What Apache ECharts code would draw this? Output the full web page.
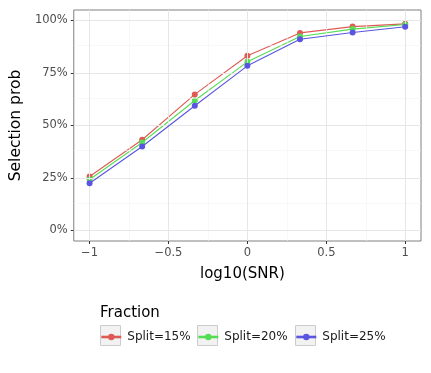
<!DOCTYPE html>
<html>
<head>
<meta charset="utf-8">
<script src="https://cdn.jsdelivr.net/npm/echarts@6/dist/echarts.min.js"></script>
<style>
html,body{margin:0;padding:0;background:#fff;}
#main{width:431px;height:373px;}
</style>
</head>
<body>
<div id="main"></div>
<script>
// data
var snr = [-1, -2/3, -1/3, 0, 1/3, 2/3, 1];
var split15 = [0.257, 0.432, 0.648, 0.832, 0.941, 0.971, 0.984];
var split20 = [0.243, 0.419, 0.619, 0.803, 0.924, 0.959, 0.981];
var split25 = [0.225, 0.400, 0.594, 0.784, 0.911, 0.943, 0.970];
var names = ['Split=15%', 'Split=20%', 'Split=25%'];
var colors = ['#E05A55', '#55DD55', '#5A55E0'];

var xTicks = [-1, -0.5, 0, 0.5, 1];
var xMinor = [-0.75, -0.25, 0.25, 0.75];
var yTicks = [0, 0.25, 0.5, 0.75, 1];
var yMinor = [0.125, 0.375, 0.625, 0.875];

function pairs(ys){
	var out = [];
	for(var i=0;i<snr.length;i++){
		out.push([snr[i], ys[i]]);
	}
	return out;
}
function fmtX(v){
	var s = String(v);
	return s.replace('-', '\u2212');
}

var font = '"DejaVu Sans", sans-serif';

var myChart = echarts.init(document.getElementById('main'), null, {renderer:'canvas'});

// grid lines drawn through a silent helper series
var gridLines = [];
xMinor.forEach(function(v){ gridLines.push({xAxis:v, lineStyle:{color:'#f4f4f4', width:0.6, type:'solid'}}); });
yMinor.forEach(function(v){ gridLines.push({yAxis:v, lineStyle:{color:'#f4f4f4', width:0.6, type:'solid'}}); });
xTicks.forEach(function(v){ gridLines.push({xAxis:v, lineStyle:{color:'#e6e6e6', width:1, type:'solid'}}); });
yTicks.forEach(function(v){ gridLines.push({yAxis:v, lineStyle:{color:'#e6e6e6', width:1, type:'solid'}}); });

var series = [{
	name:'grid',
	type:'line',
	data:[],
	silent:true,
	z:1,
	markLine:{
		silent:true,
		symbol:['none','none'],
		label:{show:false},
		animation:false,
		data:gridLines
	}
}];
var all = [split15, split20, split25];
for(var i=0;i<all.length;i++){
	series.push({
		name:names[i],
		type:'line',
		data:pairs(all[i]),
		symbol:'circle',
		symbolSize:6,
		showSymbol:true,
		z:3+i,
		lineStyle:{color:colors[i], width:1.1},
		itemStyle:{color:colors[i]},
		animation:false
	});
}

// one legend per key so each box sits where the reference has it
var keyLeft = [100, 197, 295];
var legends = [];
var boxes = [];
for(var k=0;k<names.length;k++){
	legends.push({
		data:[names[k]],
		left:keyLeft[k], top:331,
		itemWidth:20, itemHeight:8,
		padding:0,
		lineStyle:{width:2.6},
		textStyle:{fontFamily:font, fontSize:12, color:'#1a1a1a', padding:[0,0,0,1]},
		selectedMode:false
	});
	boxes.push({type:'rect', shape:{x:keyLeft[k]+0.5, y:325.5, width:20, height:20}, style:{fill:'#f2f2f2', stroke:'#cccccc', lineWidth:1}, z:-1});
}

var option = {
	backgroundColor:'#fff',
	animation:false,
	grid:{left:73, top:10, width:348, height:231, show:true, borderColor:'#808080', borderWidth:1, backgroundColor:'transparent', containLabel:false},
	legend:legends,
	graphic:[
		{type:'text', left:100, top:306, style:{text:'Fraction', font:'15px ' + font, fill:'#000'}}
	].concat(boxes),
	xAxis:{
		type:'value',
		min:-1.1, max:1.1,
		name:'log10(SNR)',
		nameLocation:'middle',
		nameGap:26,
		nameTextStyle:{fontFamily:font, fontSize:15, color:'#000', padding:[0,10,0,0]},
		axisLine:{show:false, onZero:false},
		axisTick:{show:true, customValues:xTicks, length:3, lineStyle:{color:'#333'}},
		axisLabel:{customValues:xTicks, formatter:fmtX, fontFamily:font, fontSize:11.5, color:'#4d4d4d', margin:6},
		splitLine:{show:false}
	},
	yAxis:{
		type:'value',
		min:-0.05, max:1.05,
		name:'Selection prob',
		nameLocation:'middle',
		nameGap:46,
		nameTextStyle:{fontFamily:font, fontSize:15.5, color:'#000'},
		axisLine:{show:false, onZero:false},
		axisTick:{show:true, customValues:yTicks, length:3, lineStyle:{color:'#333'}},
		axisLabel:{customValues:yTicks, formatter:function(v){return Math.round(v*100)+'%';}, fontFamily:font, fontSize:11.5, color:'#4d4d4d', margin:6},
		splitLine:{show:false}
	},
	series:series
};
myChart.setOption(option);
</script>
</body>
</html>
